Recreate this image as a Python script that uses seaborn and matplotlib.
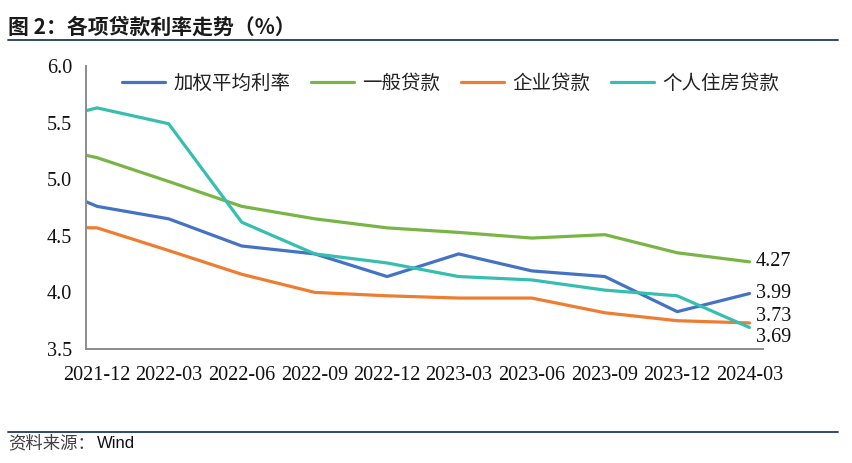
import matplotlib
matplotlib.use("Agg")
import matplotlib.pyplot as plt
import matplotlib.dates as mdates
import seaborn as sns
import pandas as pd
import numpy as np

# ---- data ----
months = ["2021-09", "2021-12", "2022-03", "2022-06", "2022-09", "2022-12",
          "2023-03", "2023-06", "2023-09", "2023-12", "2024-03"]
weighted = [5.03, 4.76, 4.65, 4.41, 4.34, 4.14, 4.34, 4.19, 4.14, 3.83, 3.99]
general = [5.33, 5.19, 4.98, 4.76, 4.65, 4.57, 4.53, 4.48, 4.51, 4.35, 4.27]
enterprise = [4.58, 4.57, 4.37, 4.16, 4.00, 3.97, 3.95, 3.95, 3.82, 3.75, 3.73]
mortgage = [5.47, 5.63, 5.49, 4.62, 4.34, 4.26, 4.14, 4.11, 4.02, 3.97, 3.69]
series_names = ["加权平均利率", "一般贷款", "企业贷款", "个人住房贷款"]
colors = ["#4472C4", "#78B545", "#ED7D31", "#36BFB0"]
tick_months = ["2021-12", "2022-03", "2022-06", "2022-09", "2022-12",
               "2023-03", "2023-06", "2023-09", "2023-12", "2024-03"]
y_ticks = [3.5, 4.0, 4.5, 5.0, 5.5, 6.0]

# points (and month labels) sit at the middle of each month slot
mid = pd.Timedelta(days=14)
dates = pd.to_datetime(months) + mid
df = pd.concat([
    pd.DataFrame({"date": dates, "value": vals, "series": name})
    for name, vals in zip(series_names, [weighted, general, enterprise, mortgage])
])

sns.set_style("white")
plt.rcParams["font.family"] = ["Liberation Serif", "Noto Sans CJK SC"]

fig = plt.figure(figsize=(8.52, 4.63), dpi=100)
ax = fig.add_axes([86 / 852, 1 - 349 / 463, (763 - 86) / 852, (349 - 66) / 463])

sns.lineplot(data=df, x="date", y="value", hue="series", hue_order=series_names,
             palette=colors, linewidth=2.3, ax=ax, legend=False, sort=True)

ax.set_xlim(pd.Timestamp("2021-12-01"), pd.Timestamp("2024-04-01"))
ax.set_ylim(3.5, 6.0)
ax.set_yticks(y_ticks)
ax.set_yticklabels([f"{v:.1f}" for v in y_ticks])
# tick marks at month boundaries, labels centred in the month slot
ax.set_xticks(pd.to_datetime(tick_months))
ax.set_xticklabels([])
ax.set_xticks(pd.to_datetime(tick_months) + mid, minor=True)
ax.xaxis.set_minor_formatter(mdates.DateFormatter("%Y-%m"))
ax.set_xlabel("")
ax.set_ylabel("")

axis_color = "#8C8C8C"
for s in ["top", "right"]:
    ax.spines[s].set_visible(False)
for s in ["left", "bottom"]:
    ax.spines[s].set_color(axis_color)
    ax.spines[s].set_linewidth(1.4)
ax.tick_params(axis="both", which="major", direction="out", length=6, width=1.3,
               color=axis_color, labelcolor="#111111")
ax.tick_params(axis="x", which="minor", length=0, pad=12, labelsize=14.5,
               labelcolor="#111111")
ax.tick_params(axis="y", pad=4, labelsize=14.5)
for lab in ax.get_xticklabels(minor=True) + ax.get_yticklabels():
    lab.set_fontfamily("Liberation Serif")

# legend
handles = [plt.Line2D([], [], color=c, linewidth=2.3) for c in colors]
leg = ax.legend(handles, series_names, loc="center left",
                bbox_to_anchor=((122 - 86) / 677, (349 - 83) / 283),
                ncol=4, frameon=False, borderaxespad=0, borderpad=0,
                handlelength=2.2, handletextpad=0.45, columnspacing=1.05,
                prop={"family": "Noto Sans CJK SC", "size": 14})
for t in leg.get_texts():
    t.set_color("#222222")

# end labels
offsets = {"加权平均利率": 0, "一般贷款": 0, "企业贷款": 4.5, "个人住房贷款": -7}
last_date = dates[-1]
for name, vals in zip(series_names, [weighted, general, enterprise, mortgage]):
    ax.annotate(f"{vals[-1]:.2f}", xy=(last_date, vals[-1]),
                xytext=(4.5, offsets[name]), textcoords="offset points",
                ha="left", va="center", fontsize=14.5, family="Liberation Serif",
                color="#111111", annotation_clip=False)

# title and frame lines
fig.text(8 / 852, 1 - 27 / 463, "图 2：各项贷款利率走势（%）", ha="left", va="center",
         fontsize=15, fontweight="bold", color="#1a1a1a",
         family=["Noto Sans CJK SC", "DejaVu Sans"])
fig.add_artist(plt.Line2D([8 / 852, 838 / 852], [1 - 40 / 463, 1 - 40 / 463],
                          color="#1F3864", linewidth=1.3))
fig.add_artist(plt.Line2D([8 / 852, 838 / 852], [1 - 432 / 463, 1 - 432 / 463],
                          color="#1F3864", linewidth=1.3))
fig.text(8 / 852, 1 - 443 / 463, "资料来源：", ha="left", va="center",
         fontsize=12.5, color="#404040", family=["Noto Sans CJK SC", "DejaVu Sans"])
fig.text(97 / 852, 1 - 443 / 463, "Wind", ha="left", va="center",
         fontsize=12, color="#111111", family=["Liberation Sans", "DejaVu Sans"])

fig.savefig("out.png", dpi=100)
